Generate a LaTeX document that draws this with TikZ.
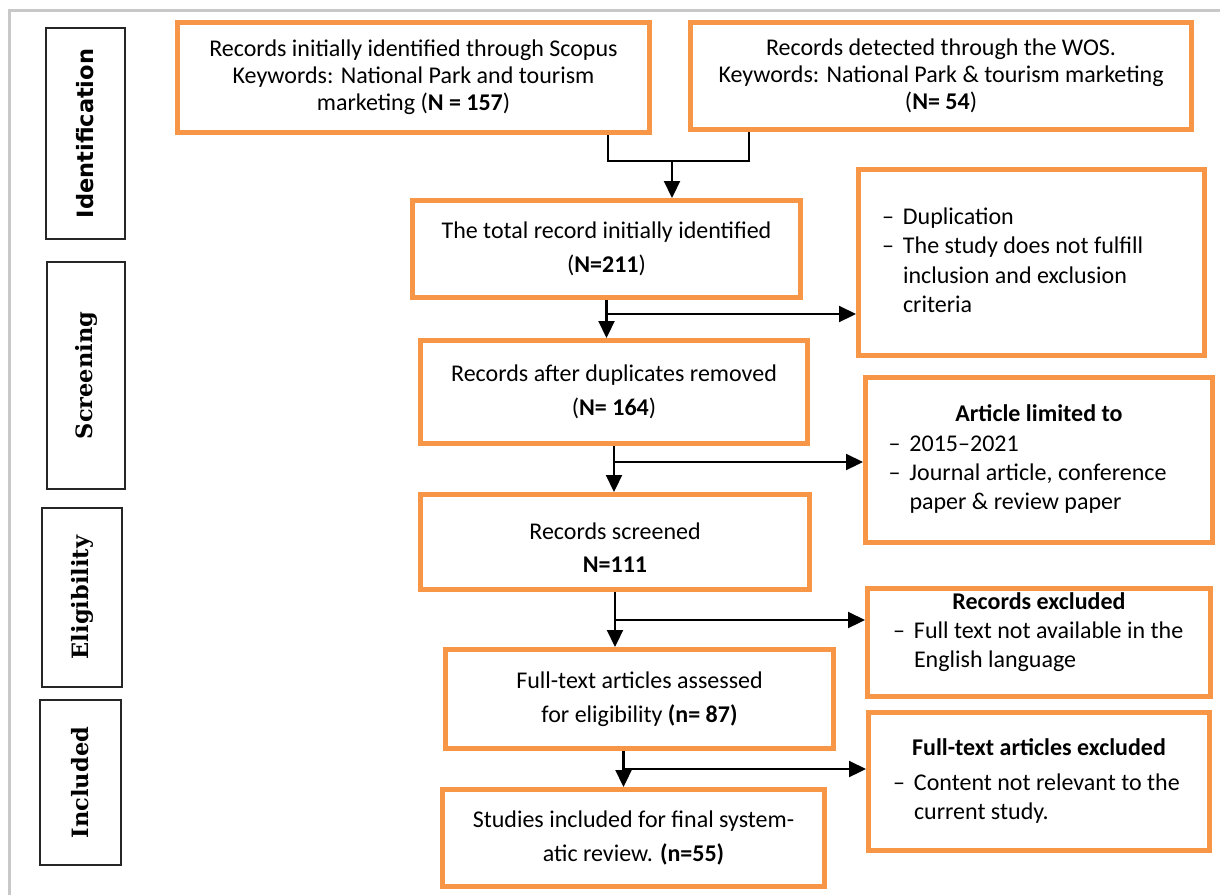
\documentclass[tikz,border=0pt]{standalone}
\usepackage{fontspec}
\setmainfont{Carlito}
\newfontfamily\stagesans{DejaVu Sans}
\newfontfamily\stageserif{DejaVu Serif}
\usetikzlibrary{arrows.meta,calc}
\definecolor{boxorange}{HTML}{F79646}
\definecolor{framegray}{HTML}{C8C8C8}
\newcommand{\dsh}{\makebox[21pt][l]{--}}

\begin{document}
\begin{tikzpicture}[x=1pt,y=-1pt]
				\tikzstyle{every node}=[font=\fontsize{24}{27}\selectfont]
				\tikzstyle{box}=[draw=boxorange,line width=5pt,inner sep=0pt,align=center]
				\tikzstyle{excl}=[box,font=\fontsize{24}{29.3}\selectfont]
				\tikzstyle{stage}=[draw=black!85,line width=1.5pt,rotate=90,inner sep=0pt,
				font=\fontsize{22.5}{22.5}\selectfont\bfseries\stageserif]
				\tikzstyle{arr}=[line width=2.2pt,-{Triangle[length=17pt,width=16pt]}]
				\tikzstyle{link}=[line width=1.8pt]
				\useasboundingbox (0,0) rectangle (1220,895);
				\draw[framegray,line width=3pt] (9,895) -- (9,10) -- (1220,10);
				% stages
				\node[stage,minimum width=211pt,minimum height=79pt] (ident) at (85.5,133.5) {\stagesans Identification};
				\node[stage,minimum width=227pt,minimum height=78pt] (screen) at (86,375.5) {Screening};
				\node[stage,minimum width=179pt,minimum height=80pt] (elig) at (82,597.5) {Eligibility};
				\node[stage,minimum width=165pt,minimum height=81pt] (incl) at (80.5,782.5) {Included};
				% main flow
				\node[box,minimum width=472pt,minimum height=110pt] (scopus) at (413.5,77.5)
				{Records initially identified through Scopus\\Keywords: National Park and tourism\\marketing (\textbf{N = 157})};
				\node[box,minimum width=501pt,minimum height=107pt] (wos) at (941,76)
				{Records detected through the WOS.\\Keywords: National Park \& tourism marketing\\(\textbf{N= 54})};
				\node[box,minimum width=388pt,minimum height=97pt] (total) at (606.5,249)
				{The total record initially identified\\[7pt](\textbf{N=211})};
				\node[box,minimum width=387pt,minimum height=103pt] (dup) at (614,392)
				{Records after duplicates removed\\[7pt](\textbf{N= 164})};
				\node[box,minimum width=389pt,minimum height=95pt] (screened) at (615,542)
				{\rule{0pt}{28pt}Records screened\\[6pt]\textbf{N=111}};
				\node[box,minimum width=388pt,minimum height=99pt] (full) at (639.5,699)
				{Full-text articles assessed\\[7pt]for eligibility \textbf{(n= 87)}};
				\node[box,minimum width=382pt,minimum height=97pt] (final) at (633.5,838)
				{Studies included for final system-\\[7pt]atic review. \textbf{(n=55)}};
				% exclusions
				\node[excl,minimum width=346pt,minimum height=186pt] (dupl) at (1031.5,262.5)
				{\begin{tabular}{@{}l@{}p{278pt}@{}}
				\dsh & Duplication\\
				\dsh & The study does not fulfill\\
				& inclusion and exclusion\\
				& criteria
				\end{tabular}};
				\node[excl,minimum width=347pt,minimum height=165pt] (limit) at (1039,460)
				{\begin{tabular}{@{}l@{}p{280pt}@{}}
				\multicolumn{2}{c}{\bfseries Article limited to}\\
				\dsh & 2015--2021\\
				\dsh & Journal article, conference\\
				& paper \& review paper
				\end{tabular}};
				\node[excl,minimum width=343pt,minimum height=100pt] (noeng) at (1039,642.5)
				{\begin{tabular}{@{}l@{}p{271pt}@{}}
				\multicolumn{2}{c}{\bfseries Records excluded}\\
				\dsh & Full text not available in the\\
				& English language\\[20pt]
				\end{tabular}};
				\node[excl,minimum width=341pt,minimum height=138pt] (norel) at (1039,781.5)
				{\begin{tabular}{@{}l@{}p{271pt}@{}}
				\multicolumn{2}{c}{\bfseries Full-text articles excluded}\\[6pt]
				\dsh & Content not relevant to the\\
				& current study.
				\end{tabular}};
				% connectors
				\coordinate (jl) at (608,161);
				\coordinate (jr) at (749,161);
				\coordinate (jm) at (672,161);
				\draw[link] (scopus.south -| jl) -- (jl) -- (jr) -- (wos.south -| jr);
				\draw[arr] (jm) -- (jm |- total.north);
				\coordinate (j1) at ($(total.south)+(0,14)$);
				\draw[arr] (total.south) -- (dup.north -| total.south);
				\draw[arr] (j1) -- (j1 -| dupl.west);
				\coordinate (j2) at ($(dup.south)+(0,16)$);
				\draw[arr] (dup.south) -- (screened.north -| dup.south);
				\draw[arr] (j2) -- (j2 -| limit.west);
				\coordinate (j3) at ($(screened.south)+(0,28)$);
				\draw[arr] (screened.south) -- (full.north -| screened.south);
				\draw[arr] (j3) -- (j3 -| noeng.west);
				\coordinate (k4) at ($(full.south)+(-16,0)$);
				\coordinate (j4) at ($(k4)+(0,18)$);
				\draw[arr] (k4) -- (k4 |- final.north);
				\draw[arr] (j4) -- (j4 -| norel.west);
\end{tikzpicture}
\end{document}
